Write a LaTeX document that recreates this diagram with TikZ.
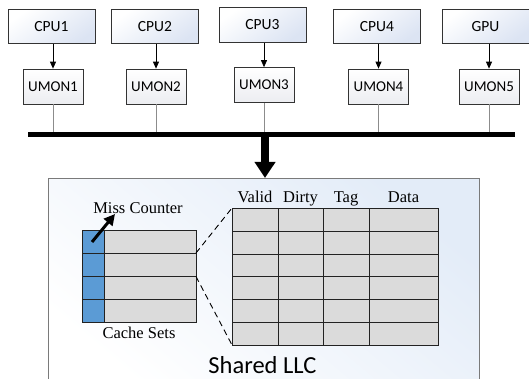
\documentclass[tikz,border=0pt]{standalone}
\usepackage{fontspec}
\setmainfont{Liberation Serif}
\newfontfamily\calibri{Carlito}
\usetikzlibrary{arrows.meta}

\definecolor{edge}{HTML}{333333}
\definecolor{cpushade}{HTML}{DCE4F3}
\definecolor{umonshade}{HTML}{ECEDF1}
\definecolor{llcshade}{HTML}{E3ECF8}
\definecolor{llcedge}{HTML}{7A7A7A}
\definecolor{cellgray}{HTML}{DBDBDB}
\definecolor{counterblue}{HTML}{5B9BD5}
\definecolor{tapline}{HTML}{8C8C8C}
\definecolor{gridline}{HTML}{222222}

\tikzset{
  cpubox/.style={draw=edge, line width=0.9pt, minimum width=87pt, minimum height=34.5pt,
    inner sep=0pt, top color=white, bottom color=cpushade, shading angle=35,
    font=\calibri\fontsize{15.5}{18}\selectfont},
  umonbox/.style={draw=edge, line width=0.7pt, minimum width=60pt, minimum height=35pt,
    inner sep=0pt, top color=white, bottom color=umonshade,
    font=\calibri\fontsize{15}{18}\selectfont},
  feed/.style={draw=black, line width=0.8pt, -{Triangle[width=6pt,length=7pt]}},
  tap/.style={draw=tapline, line width=1pt},
  bus/.style={draw=black, line width=4.5pt},
  llcbox/.style={draw=llcedge, line width=0.9pt, inner sep=0pt,
    top color=llcshade, bottom color=white, shading angle=-40},
  serif/.style={font=\fontsize{16.5}{19}\selectfont, inner sep=0pt, anchor=base},
  grid/.style={draw=gridline, line width=0.9pt},
  zoomline/.style={draw=black, line width=0.9pt, dash pattern=on 6pt off 4pt},
}

\begin{document}
\begin{tikzpicture}[x=1pt, y=-1pt]
  \clip (0,0) rectangle (529,379);
  \fill[white] (0,0) rectangle (529,379);

  % processors
  \node[cpubox] (cpu1) at (51.5,26.5) {CPU1};
  \node[cpubox] (cpu2) at (155,26.5) {CPU2};
  \node[cpubox] (cpu3) at (262.5,25) {CPU3};
  \node[cpubox] (cpu4) at (377,26.5) {CPU4};
  \node[cpubox] (gpu)  at (485.5,26.5) {GPU};

  % utility monitors
  \node[umonbox] (umon1) at (53,86.5) {UMON1};
  \node[umonbox] (umon2) at (156,86.5) {UMON2};
  \node[umonbox] (umon3) at (264,85) {UMON3};
  \node[umonbox] (umon4) at (378.5,86.5) {UMON4};
  \node[umonbox] (umon5) at (489,86.5) {UMON5};

  \foreach \p/\u in {cpu1/umon1, cpu2/umon2, cpu3/umon3, cpu4/umon4, gpu/umon5}
    \draw[feed] (\p.south -| \u) -- (\u.north);

  % shared bus
  \coordinate (busL) at (28,134.5);
  \coordinate (busR) at (515,134.5);
  \foreach \u in {umon1, umon2, umon3, umon4, umon5}
    \draw[tap] (\u.south) -- (\u |- busL);
  \draw[bus] (busL) -- (busR);

  % shared last level cache
  \node[llcbox, anchor=north west, minimum width=431pt, minimum height=215pt] (llc) at (48,178) {};
  \coordinate (drop) at (265,136);
  \draw[line width=8.5pt, -{Triangle[width=20pt,length=16pt]}] (drop) -- (drop |- llc.north);

  % cache sets with miss counters
  \fill[cellgray] (82,230) rectangle (196,322);
  \fill[counterblue] (82,230) rectangle (104,322);
  \draw[grid] (82,230) rectangle (196,322);
  \draw[grid] (104,230) -- (104,322);
  \foreach \y in {253,276.5,299}
    \draw[grid] (82,\y) -- (196,\y);
  \coordinate (setA) at (196,253);
  \coordinate (setB) at (196,276.5);

  \node[serif] (misslabel) at (138,213) {Miss Counter};
  \node[serif] (setlabel) at (139,338) {Cache Sets};
  \coordinate (counter) at (92,242);
  \coordinate (counterTip) at (115,214);
  \draw[line width=3pt, -{Triangle[width=11pt,length=11pt]}] (counter) -- (counterTip);

  % expanded set: ways with their fields
  \fill[cellgray] (232,208) rectangle (438,345);
  \draw[grid] (232,208) rectangle (438,345);
  \foreach \x in {278,323,369}
    \draw[grid] (\x,208) -- (\x,345);
  \foreach \y in {231,254,276.5,299,322}
    \draw[grid] (232,\y) -- (438,\y);
  \coordinate (wayTop) at (232,208);
  \coordinate (wayBot) at (232,345);

  \draw[zoomline] (setA) -- (wayTop);
  \draw[zoomline] (setB) -- (wayBot);

  \node[serif] (hvalid) at (255,202) {Valid};
  \node[serif] (hdirty) at (300.5,202) {Dirty};
  \node[serif] (htag)   at (346,202) {Tag};
  \node[serif] (hdata)  at (403.5,202) {Data};

  \node[font=\calibri\fontsize{24.5}{28}\selectfont, inner sep=0pt, anchor=base] (llclabel) at (262.5,373) {Shared LLC};
\end{tikzpicture}
\end{document}
